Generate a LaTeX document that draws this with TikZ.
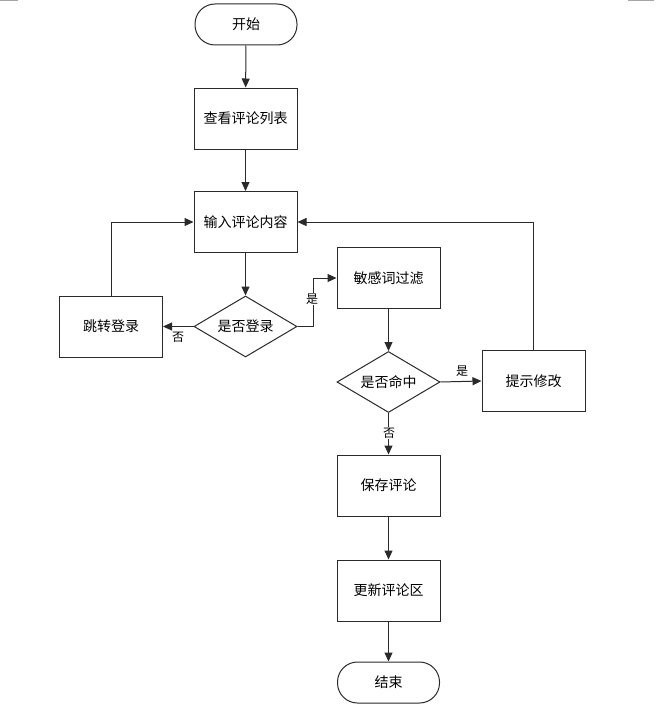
\documentclass[tikz,border=0pt]{standalone}
\usepackage{fontspec}
\setmainfont{Noto Sans CJK SC}
\usetikzlibrary{shapes.geometric,arrows.meta}
\definecolor{ln}{HTML}{2A2A2A}
\tikzset{
  base/.style={draw=ln,line width=1pt,font=\fontsize{14}{16}\selectfont,inner sep=0pt,fill=white},
  procbox/.style={base,rectangle,minimum width=103pt,minimum height=61pt},
  termbox/.style={base,rectangle,rounded corners=20pt,minimum width=102pt,minimum height=41pt},
  decbox/.style={base,diamond,aspect=1.7,minimum width=103pt,minimum height=61pt},
  conn/.style={draw=ln,line width=1pt,-{Triangle[length=9pt,width=8pt]}},
  lbl/.style={font=\fontsize{12}{14}\selectfont,inner sep=1pt,fill=white},
  cornermark/.style={draw=black!35,line width=1.5pt}
}
\begin{document}
\begin{tikzpicture}[x=1pt,y=-1pt]
\useasboundingbox (0,0) rectangle (669,709);
\draw[cornermark] (0,0.5) -- (18,0.5);
\draw[cornermark] (628,0.5) -- (654,0.5);

\node[termbox] (start) at (246,24.5) {开始};
\node[procbox] (view) at (245.5,118.5) {查看评论列表};
\node[procbox] (input) at (245.5,222) {输入评论内容};
\node[decbox] (login) at (245.5,326.5) {是否登录};
\node[procbox] (jump) at (111,326.5) {跳转登录};
\node[procbox] (filter) at (388.5,278) {敏感词过滤};
\node[decbox] (hit) at (388.5,382) {是否命中};
\node[procbox] (hint) at (533.5,381) {提示修改};
\node[procbox] (save) at (388.5,485.5) {保存评论};
\node[procbox] (update) at (388.5,590.5) {更新评论区};
\node[termbox] (end) at (388.5,682.5) {结束};

\coordinate (c1) at (313,326.5);
\coordinate (c2) at (313,278);
\coordinate (c3) at (111,222);
\coordinate (c4) at (533.5,222);

\draw[conn] (start) -- (view);
\draw[conn] (view) -- (input);
\draw[conn] (input) -- (login);
\draw[conn] (login.east) -- (c1) -- (c2) -- (filter.west);
\draw[conn] (login.west) -- (jump.east);
\draw[conn] (jump.north) -- (c3) -- (input.west);
\draw[conn] (filter) -- (hit);
\draw[conn] (hit.east) -- (hint.west);
\draw[conn] (hint.north) -- (c4) -- (input.east);
\draw[conn] (hit.south) -- (save.north);
\draw[conn] (save) -- (update);
\draw[conn] (update) -- (end);

\node[lbl] (l1) at (312,299) {是};
\node[lbl,fill=none] (l2) at (178,337) {否};
\node[lbl,fill=none] (l3) at (462,371) {是};
\node[lbl] (l4) at (389,433) {否};
\end{tikzpicture}
\end{document}
